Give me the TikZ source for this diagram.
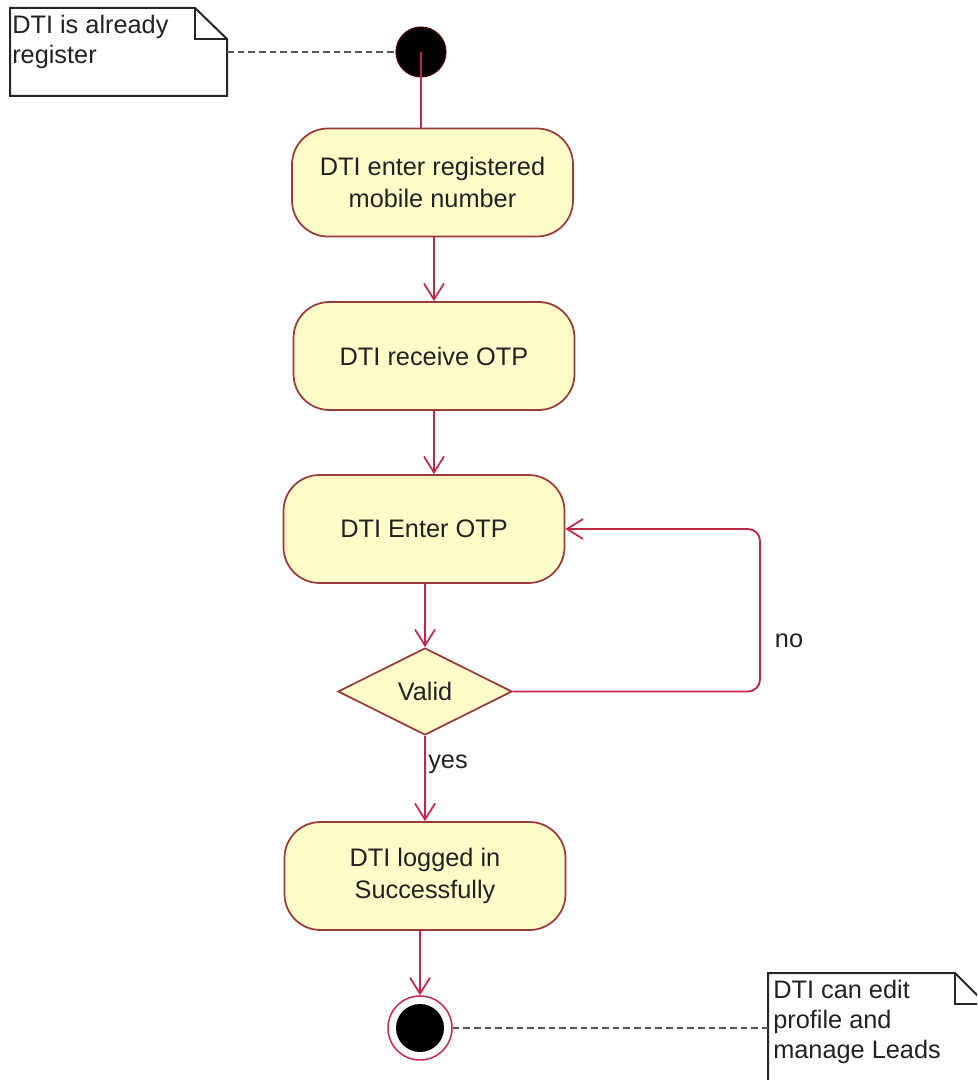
\documentclass[tikz,border=0pt]{standalone}
\usepackage{fontspec}
\setmainfont{Liberation Sans}
\usetikzlibrary{arrows.meta,shapes.geometric,calc}

\definecolor{actfill}{HTML}{FEFDC9}
\definecolor{actborder}{HTML}{9A3A3A}
\definecolor{flow}{HTML}{C02848}
\definecolor{notedash}{HTML}{555555}
\definecolor{ink}{HTML}{222222}

\tikzset{
  txt/.style={font=\fontsize{19pt}{23.5pt}\selectfont, text=ink},
  action/.style={txt, draw=actborder, fill=actfill, line width=1.3pt,
    rounded corners=27pt, minimum width=210.75pt, minimum height=81pt,
    align=center, inner sep=0pt},
  decision/.style={txt, draw=actborder, fill=actfill, line width=1.3pt,
    diamond, minimum width=130.5pt, minimum height=65.25pt, inner sep=0pt},
  startnode/.style={circle, fill=black, draw=black!70!red, line width=0.8pt,
    minimum size=37.5pt, inner sep=0pt},
  endnode/.style={circle, draw=flow, fill=white, line width=1.1pt,
    minimum size=48pt, inner sep=0pt,
    path picture={\fill[black] (path picture bounding box.center) circle (18pt);}},
  flowline/.style={draw=flow, line width=1.4pt},
  edge/.style={flowline, -{Straight Barb[length=12pt,width=15pt,line width=1.3pt]}},
  notebox/.style={draw=black!85, fill=white, line width=1.5pt},
  notetext/.style={font=\fontsize{19pt}{22.5pt}\selectfont, text=ink,
    align=left, inner sep=0pt},
  notelink/.style={draw=notedash, line width=1.7pt, dash pattern=on 5pt off 3pt},
  label/.style={txt, inner sep=0pt}
}

\begin{document}
\begin{tikzpicture}[x=0.75pt, y=-0.75pt]
  \clip (0,0) rectangle (977,1080);
  \fill[white] (0,0) rectangle (977,1080);

  % note at the top left
  \path[notebox] (10,8) -- (195,8) -- (227,39) -- (227,96) -- (10,96) -- cycle;
  \draw[notebox, fill=none] (195,8) -- (195,39) -- (227,39);
  \node[notetext, anchor=north west] (note1) at (12,15) {DTI is already\\register};
  \coordinate (note1port) at (227,52);

  % note at the bottom right
  \path[notebox] (768,973) -- (955,973) -- (986,1004) -- (986,1100) -- (768,1100) -- cycle;
  \draw[notebox, fill=none] (955,973) -- (955,1004) -- (986,1004);
  \node[notetext, anchor=north west] (note2) at (773,980) {DTI can edit\\profile and\\manage Leads};
  \coordinate (note2port) at (768,1028);

  % activity nodes
  \node[startnode] (start) at (421,52) {};
  \node[action] (enter) at (432.5,182.5) {DTI enter registered\\mobile number};
  \node[action] (receive) at (434,356) {DTI receive OTP};
  \node[action] (otp) at (424,529) {DTI Enter OTP};
  \node[decision] (valid) at (425,691.5) {Valid};
  \node[action] (logged) at (425,876) {DTI logged in\\Successfully};
  \node[endnode] (stop) at (420,1028) {};

  % note links
  \draw[notelink] (note1port) -- (start.west);
  \draw[notelink] (stop.east) -- (note2port);

  % control flow
  \draw[flowline] (start.center) -- (start.center |- enter.north);
  \draw[edge] (enter.south -| receive.north) -- (receive.north);
  \draw[edge] (receive.south) -- (receive.south |- otp.north);
  \draw[edge] (otp.south -| valid.north) -- (valid.north);
  \draw[edge] (valid.south) -- (logged.north);
  \node[label, anchor=west] (yeslabel) at (428,764) {yes};
  \draw[edge] (logged.south -| stop.north) -- (stop.north);

  \coordinate (loop) at (760,691.5);
  \draw[edge, rounded corners=9pt] (valid.east) -- (loop) -- (loop |- otp.east) -- (otp.east);
  \node[label] (nolabel) at (789,641) {no};
\end{tikzpicture}
\end{document}
